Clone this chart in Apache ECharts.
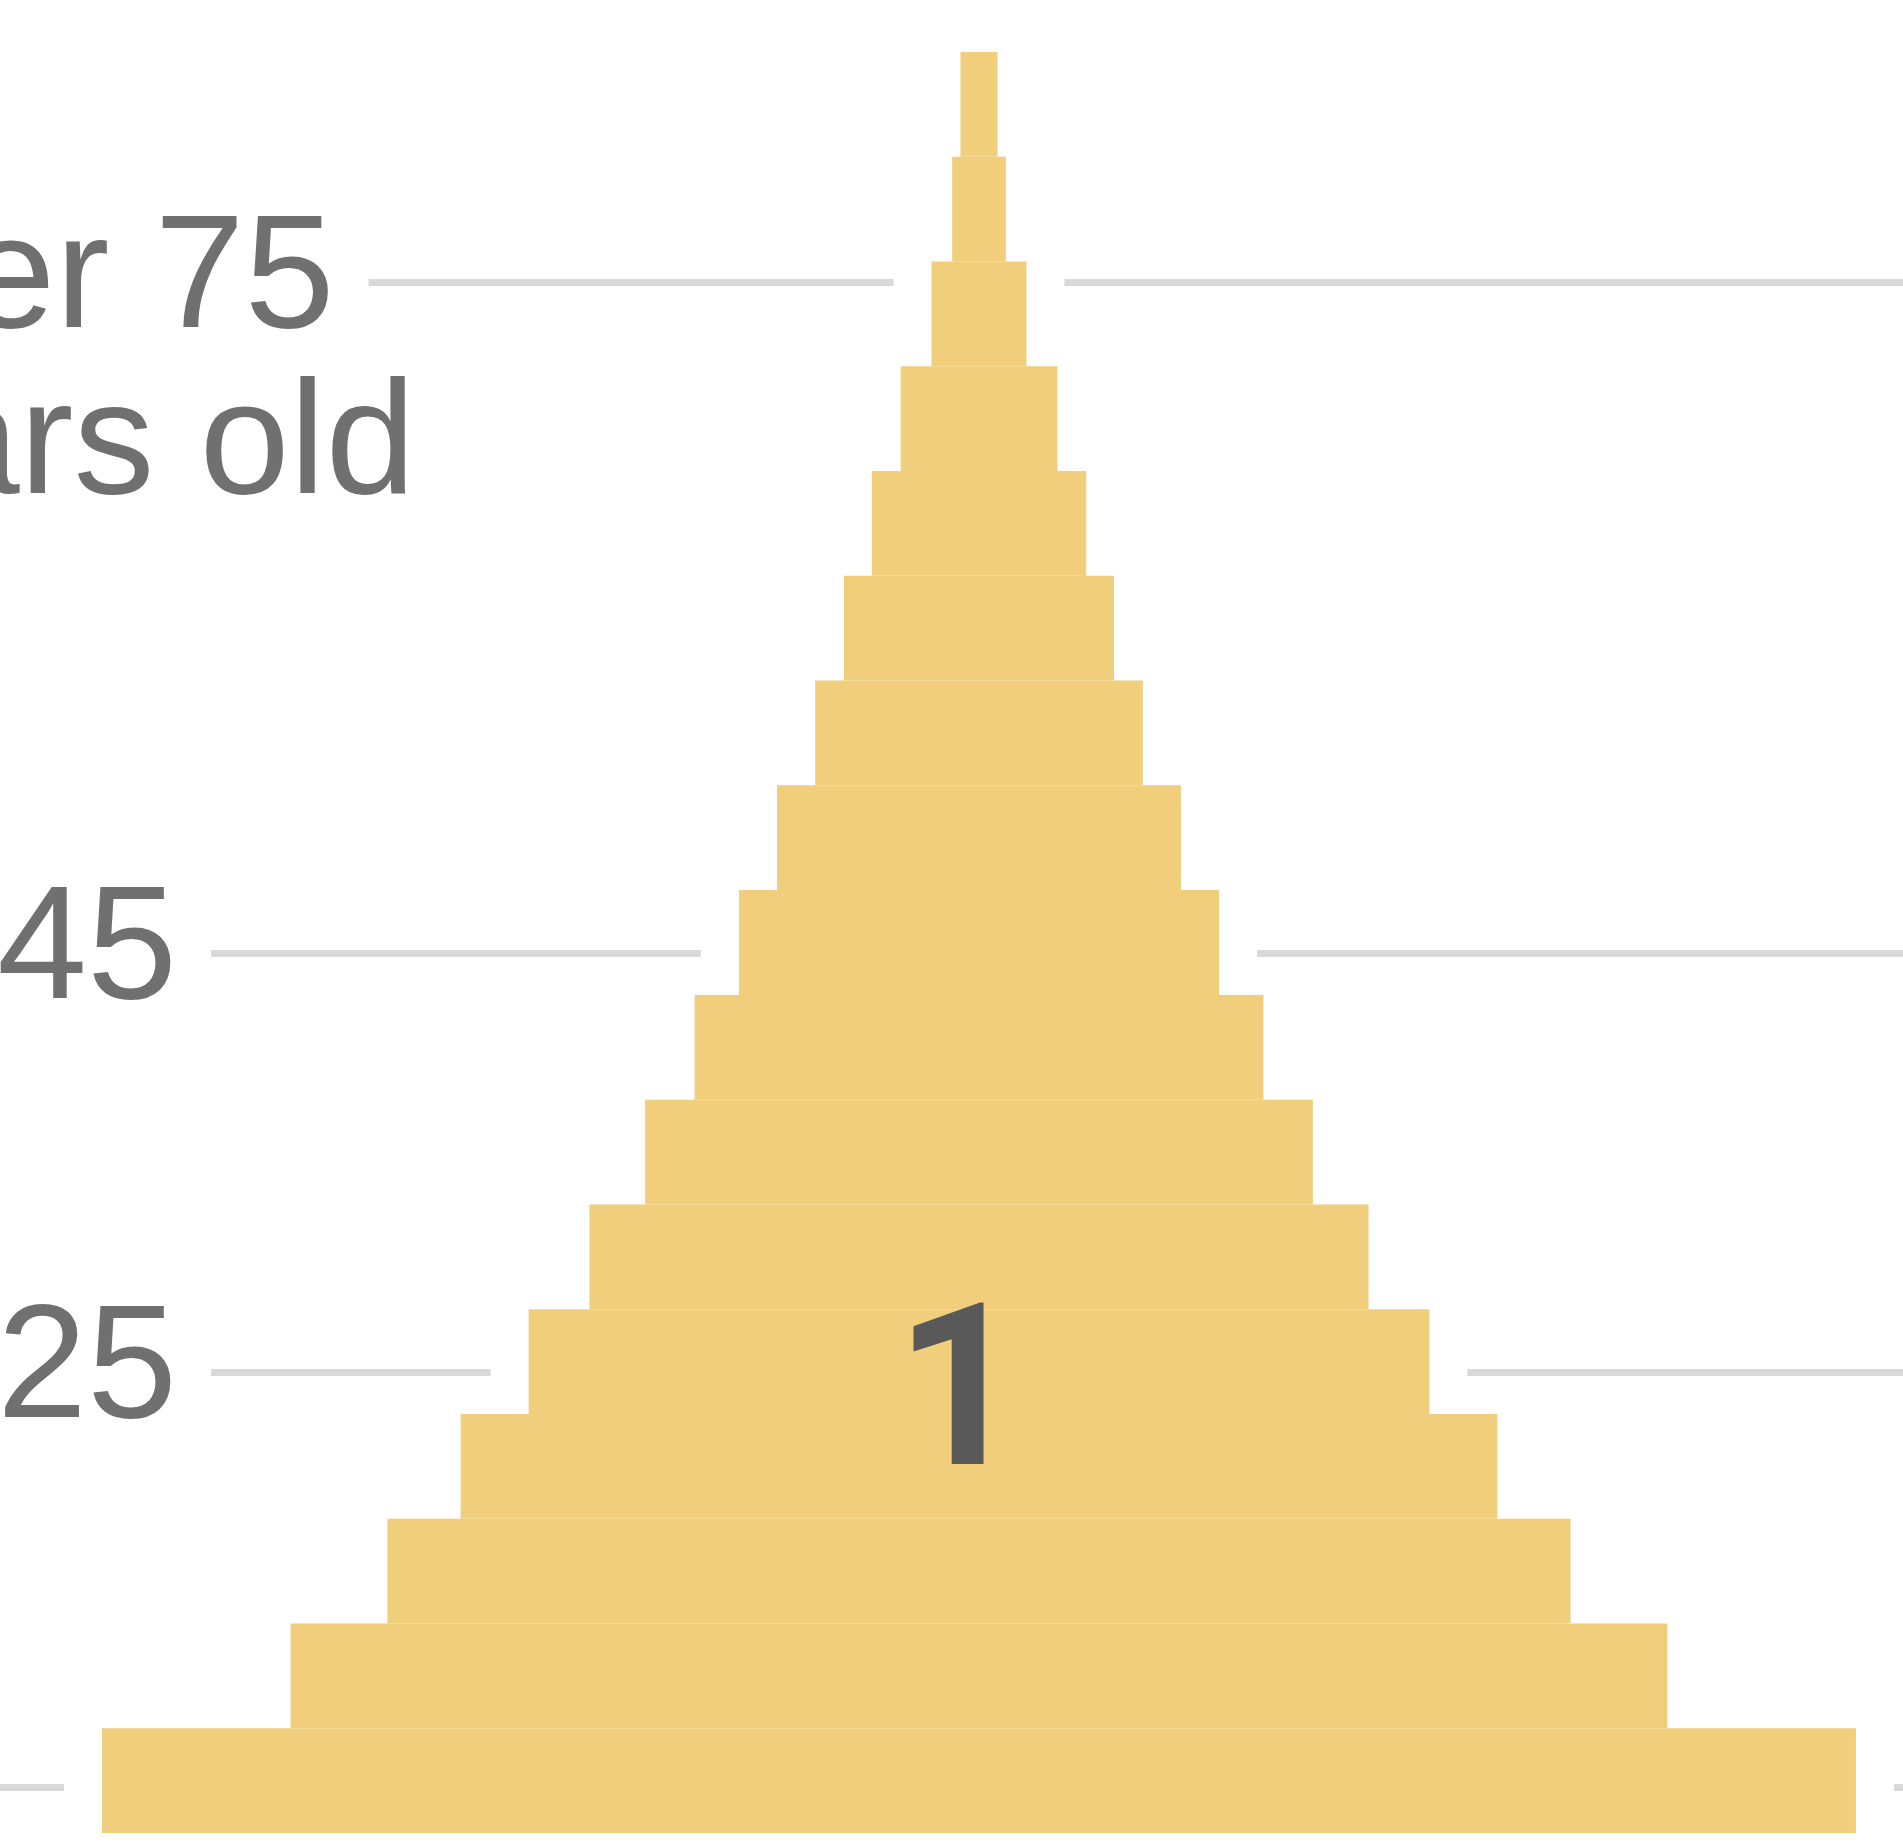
<!DOCTYPE html>
<html>
<head>
<meta charset="utf-8">
<title>Age pyramid</title>
<script src="https://cdn.jsdelivr.net/npm/echarts@6/dist/echarts.min.js"></script>
<style>
html, body { margin: 0; padding: 0; background: #fff; }
#chart { width: 1903px; height: 1843px; }
</style>
</head>
<body>
<div id="chart"></div>
<script>
// 5-year age groups, youngest at the bottom
const ageGroups = ['0-4', '5-9', '10-14', '15-19', '20-24', '25-29', '30-34', '35-39', '40-44',
  '45-49', '50-54', '55-59', '60-64', '65-69', '70-74', '75-79', '80+'];
// share of the population drawn on each side of the centre line (%)
const sideShare = [8.51, 6.68, 5.74, 5.03, 4.37, 3.78, 3.24, 2.76, 2.33, 1.96, 1.59, 1.31, 1.04, 0.76, 0.46, 0.26, 0.18];
// reference lines (on the age scale) and their labels
const lineAges = [2.2, 22, 42, 74];
const lineLabels = ['', '25', '45', 'Over 75\nyears old'];
const rankLabel = '1';

const chart = echarts.init(document.getElementById('chart'));

const barColor = '#f0ce7c';
const gridWidth = 1958;
const gridHeight = 1781;
const xMax = 9.5;
const haloPad = 38;   // white space kept round the bars
const labelPad = 34;  // and round the line labels
const haloShare = sideShare.map(v => v + haloPad * 2 * xMax / gridWidth);
const haloBarWidth = gridHeight / ageGroups.length + haloPad * 2;
const labelLineHeight = 166;

const option = {
  animation: false,
  backgroundColor: '#fff',
  title: {
    text: rankLabel,
    left: 890,
    top: 1289,
    textStyle: {
      fontFamily: 'Roboto',
      fontSize: 226,
      fontWeight: 'bold',
      color: '#595959',
      lineHeight: 226
    }
  },
  grid: {
    left: 0,
    top: 52,
    width: gridWidth,
    height: gridHeight,
    containLabel: false,
    outerBoundsMode: 'none'
  },
  xAxis: { type: 'value', min: -xMax, max: xMax, show: false },
  yAxis: [
    {
      type: 'value',
      min: 0,
      max: 85,
      position: 'left',
      axisLine: { show: false },
      axisTick: { show: false, customValues: lineAges },
      splitLine: {
        show: true,
        customValues: lineAges,
        lineStyle: { color: '#d9d9d9', width: 7 }
      },
      axisLabel: {
        customValues: lineAges,
        inside: true,
        margin: 87,
        align: 'center',
        verticalAlign: 'top',
        padding: [-labelLineHeight / 2, 0, 0, 0],
        lineHeight: labelLineHeight,
        fontSize: 162,
        fontFamily: 'Liberation Sans',
        color: '#707070',
        formatter: v => {
          const text = lineLabels[lineAges.indexOf(v)];
          return text ? '{t|' + text + '}' : '';
        },
        rich: {
          t: {
            align: 'left',
            fontSize: 162,
            fontFamily: 'Liberation Sans',
            color: '#707070',
            lineHeight: labelLineHeight,
            backgroundColor: '#fff',
            padding: [0, labelPad, 0, labelPad]
          }
        }
      }
    },
    { type: 'category', data: ageGroups, show: false },
    { type: 'category', data: ageGroups, show: false }
  ],
  series: [
    {
      name: 'halo-left', type: 'bar', yAxisIndex: 2, stack: 'halo',
      data: haloShare.map(v => -v), barWidth: haloBarWidth,
      itemStyle: { color: '#fff' }, silent: true, z: 1
    },
    {
      name: 'halo-right', type: 'bar', yAxisIndex: 2, stack: 'halo',
      data: haloShare, barWidth: haloBarWidth,
      itemStyle: { color: '#fff' }, silent: true, z: 1
    },
    {
      name: 'left', type: 'bar', yAxisIndex: 1, stack: 'pyramid',
      data: sideShare.map(v => -v), barCategoryGap: 0,
      itemStyle: { color: barColor }, z: 2
    },
    {
      name: 'right', type: 'bar', yAxisIndex: 1, stack: 'pyramid',
      data: sideShare, barCategoryGap: 0,
      itemStyle: { color: barColor }, z: 2
    }
  ]
};

chart.setOption(option);
</script>
</body>
</html>
